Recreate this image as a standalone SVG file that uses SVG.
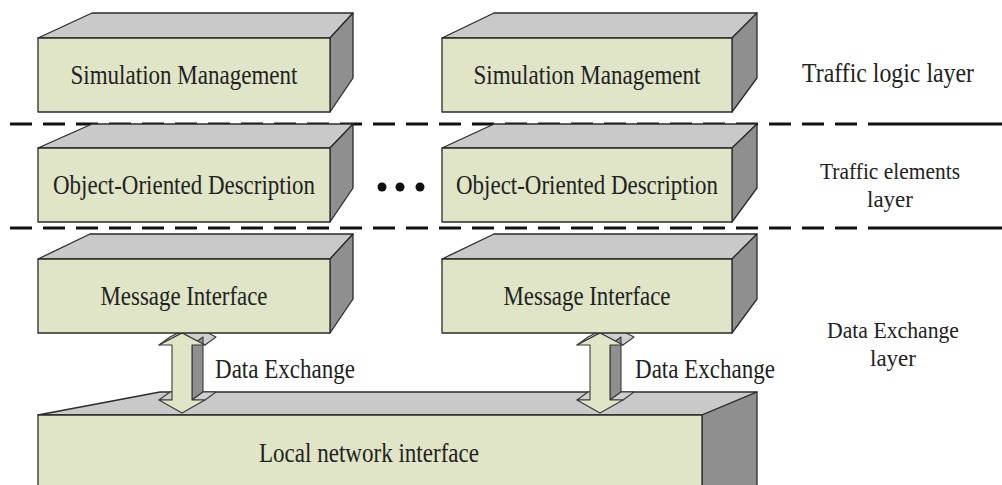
<svg xmlns="http://www.w3.org/2000/svg" width="1002" height="485" viewBox="0 0 1002 485">
  <style>
    .front { fill: #dfe5c6; stroke: #2b2b2b; stroke-width: 1.3; stroke-linejoin: round; }
    .top { fill: #c9c9c9; stroke: #2b2b2b; stroke-width: 1.3; stroke-linejoin: round; }
    .side { fill: #8f8f8f; stroke: #2b2b2b; stroke-width: 1.3; stroke-linejoin: round; }
    .afront { fill: #dfe5c6; stroke: #3a3a3a; stroke-width: 1.1; stroke-linejoin: round; }
    .alight { fill: #cfcfcf; stroke: #3a3a3a; stroke-width: 1.1; stroke-linejoin: round; }
    .adark { fill: #8f8f8f; stroke: #3a3a3a; stroke-width: 1.1; stroke-linejoin: round; }
    .lbl { font-family: "Liberation Serif", "Times New Roman", serif; font-size: 27px; fill: #222; }
    .two { font-size: 24px; }
    .mid { text-anchor: middle; }
    .sep { stroke: #111; stroke-width: 3; fill: none; }
  </style>

  <!-- layer separators: dashed, ending in a solid run on the right -->
  <g id="separators">
    <line class="sep" x1="10" y1="124" x2="880" y2="124" stroke-dasharray="22 11"/>
    <line class="sep" x1="880" y1="124" x2="1002" y2="124"/>
    <line class="sep" x1="10" y1="228" x2="880" y2="228" stroke-dasharray="22 11"/>
    <line class="sep" x1="880" y1="228" x2="1002" y2="228"/>
  </g>

  <!-- base block -->
  <g id="local-network-interface">
    <polygon class="top" points="38,415 160,392 757,392 702,415"/>
    <polygon class="side" points="702,415 757,392 757,490 702,490"/>
    <rect class="front" x="38" y="415" width="664" height="75"/>
    <text class="lbl mid" x="369" y="462" textLength="220" lengthAdjust="spacingAndGlyphs">Local network interface</text>
  </g>

  <!-- data exchange arrows between message interfaces and the network -->
  <g id="connectors">
    <g id="exchange-left">
      <polygon class="alight" points="159,345 182,333 193,325 170,337"/>
      <polygon class="alight" points="182,333 205,345 216,337 193,325"/>
      <polygon class="adark" points="192,345 192,400 203,392 203,337"/>
      <polygon class="alight" points="192,400 205,400 216,392 203,392"/>
      <polygon class="alight" points="159,400 172,400 183,392 170,392"/>
      <polygon class="afront" points="182,333 205,345 192,345 192,400 205,400 182,413 159,400 172,400 172,345 159,345"/>
    </g>
    <g id="exchange-right">
      <polygon class="alight" points="577,345 600,333 611,325 588,337"/>
      <polygon class="alight" points="600,333 623,345 634,337 611,325"/>
      <polygon class="adark" points="610,345 610,400 621,392 621,337"/>
      <polygon class="alight" points="610,400 623,400 634,392 621,392"/>
      <polygon class="alight" points="577,400 590,400 601,392 588,392"/>
      <polygon class="afront" points="600,333 623,345 610,345 610,400 623,400 600,413 577,400 590,400 590,345 577,345"/>
    </g>
    <text class="lbl" x="215" y="378" textLength="140" lengthAdjust="spacingAndGlyphs">Data Exchange</text>
    <text class="lbl" x="635" y="378" textLength="140" lengthAdjust="spacingAndGlyphs">Data Exchange</text>
  </g>

  <!-- left column -->
  <g id="sim-mgmt-left">
    <polygon class="top" points="38,38 92,13 353,13 330,38"/>
    <polygon class="side" points="330,38 353,13 353,78 330,112"/>
    <rect class="front" x="38" y="38" width="292" height="74"/>
    <text class="lbl mid" x="184" y="84" textLength="227" lengthAdjust="spacingAndGlyphs">Simulation Management</text>
  </g>
  <g id="ood-left">
    <polygon class="top" points="38,148 92,124 353,124 330,148"/>
    <polygon class="side" points="330,148 353,124 353,188 330,222"/>
    <rect class="front" x="38" y="148" width="292" height="74"/>
    <text class="lbl mid" x="184" y="194" textLength="262" lengthAdjust="spacingAndGlyphs">Object-Oriented Description</text>
  </g>
  <g id="msg-if-left">
    <polygon class="top" points="38,259 90,234 353,234 330,259"/>
    <polygon class="side" points="330,259 353,234 353,299 330,333"/>
    <rect class="front" x="38" y="259" width="292" height="74"/>
    <text class="lbl mid" x="184" y="305" textLength="167" lengthAdjust="spacingAndGlyphs">Message Interface</text>
  </g>

  <!-- ellipsis between the columns -->
  <g id="ellipsis" fill="#111">
    <circle cx="382" cy="187" r="4.5"/>
    <circle cx="400" cy="187" r="4.5"/>
    <circle cx="420" cy="187" r="4.5"/>
  </g>

  <!-- right column -->
  <g id="sim-mgmt-right">
    <polygon class="top" points="442,38 494,13 757,13 732,38"/>
    <polygon class="side" points="732,38 757,13 757,78 732,112"/>
    <rect class="front" x="442" y="38" width="290" height="74"/>
    <text class="lbl mid" x="587" y="84" textLength="227" lengthAdjust="spacingAndGlyphs">Simulation Management</text>
  </g>
  <g id="ood-right">
    <polygon class="top" points="442,148 494,124 757,124 732,148"/>
    <polygon class="side" points="732,148 757,124 757,188 732,222"/>
    <rect class="front" x="442" y="148" width="290" height="74"/>
    <text class="lbl mid" x="587" y="194" textLength="262" lengthAdjust="spacingAndGlyphs">Object-Oriented Description</text>
  </g>
  <g id="msg-if-right">
    <polygon class="top" points="442,259 494,234 757,234 732,259"/>
    <polygon class="side" points="732,259 757,234 757,299 732,333"/>
    <rect class="front" x="442" y="259" width="290" height="74"/>
    <text class="lbl mid" x="587" y="305" textLength="167" lengthAdjust="spacingAndGlyphs">Message Interface</text>
  </g>

  <!-- layer names -->
  <g id="layer-labels">
    <text class="lbl mid" x="888" y="82" textLength="172" lengthAdjust="spacingAndGlyphs">Traffic logic layer</text>
    <text class="lbl two mid" x="890" y="179" textLength="140" lengthAdjust="spacingAndGlyphs">Traffic elements</text>
    <text class="lbl two mid" x="890" y="207" textLength="46" lengthAdjust="spacingAndGlyphs">layer</text>
    <text class="lbl two mid" x="893" y="338" textLength="132" lengthAdjust="spacingAndGlyphs">Data Exchange</text>
    <text class="lbl two mid" x="893" y="366" textLength="46" lengthAdjust="spacingAndGlyphs">layer</text>
  </g>
</svg>
